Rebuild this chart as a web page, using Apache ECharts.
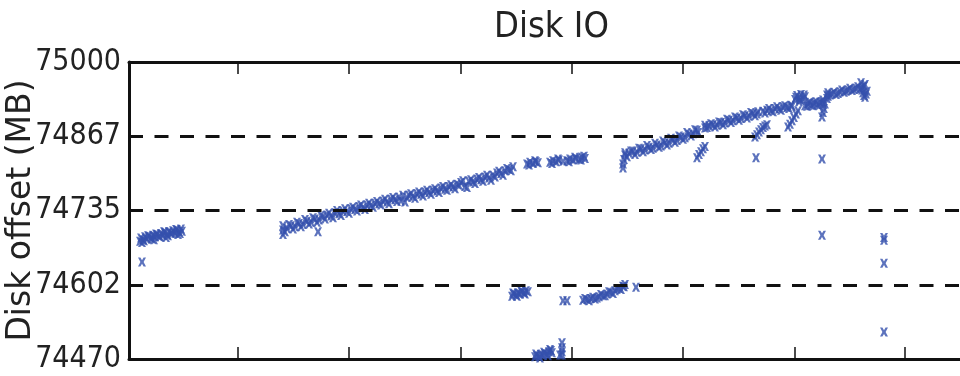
<!DOCTYPE html>
<html>
<head>
<meta charset="utf-8">
<script src="https://cdn.jsdelivr.net/npm/echarts@6/dist/echarts.min.js"></script>
<style>html,body{margin:0;padding:0;background:#fff}#c{width:960px;height:376px}</style>
</head>
<body>
<div id="c"></div>
<script>
// x: time position (arbitrary units), y: disk offset in MB
var segA = [[11,74680],[12,74686],[13,74678],[14,74683],[15,74681],[16,74688],[18,74684],[19,74690],[20,74689],[22,74686],[23,74684],[24,74691],[25,74683],[26,74688],[27,74693],[28,74692],[30,74689],[31,74688],[32,74694],[34,74691],[35,74697],[36,74696],[37,74687],[38,74692],[39,74690],[40,74697],[42,74694],[43,74695],[44,74699],[46,74695],[47,74701],[48,74700],[49,74692],[50,74697],[51,74694],[52,74702],[53,74698]];
var outA = [[13,74643]];
var segB = [[154,74692],[154,74700],[154,74708],[156,74697],[158,74703],[160,74710],[162,74708],[164,74702],[166,74706],[168,74714],[170,74712],[172,74706],[174,74710],[176,74719],[178,74716],[180,74711],[182,74714],[184,74722],[186,74720],[188,74714],[190,74718],[192,74726],[194,74724],[196,74720],[198,74727],[200,74730],[202,74725],[204,74722],[206,74731],[208,74735],[210,74729],[212,74726],[214,74734],[216,74738],[218,74733],[220,74730],[222,74738],[224,74741],[226,74737],[228,74734],[230,74742],[232,74745],[234,74740],[236,74737],[238,74745],[240,74748],[242,74744],[244,74741],[246,74748],[248,74751],[250,74747],[252,74745],[254,74752],[256,74755],[258,74750],[260,74747],[262,74755],[264,74758],[266,74754],[268,74751],[270,74759],[272,74752],[274,74762],[276,74750],[278,74758],[280,74762],[282,74765],[284,74760],[286,74757],[288,74765],[290,74768],[292,74764],[294,74761],[296,74768],[298,74771],[300,74767],[302,74764],[304,74771],[306,74774],[308,74770],[310,74767],[312,74775],[314,74778],[316,74773],[318,74771],[320,74778],[322,74781],[324,74777],[326,74774],[328,74782],[330,74780],[332,74785],[334,74788],[336,74778],[338,74776],[340,74787],[342,74790],[344,74786],[346,74783],[348,74791],[350,74794],[352,74790],[354,74787],[356,74795],[358,74798],[360,74793],[362,74789],[364,74798],[366,74795],[368,74802],[370,74805],[372,74801],[374,74798],[376,74806],[378,74810],[380,74808],[382,74806],[384,74813]];
var outB = [[189,74697]];
var segGaps = [[398,74818],[400,74816],[401,74821],[404,74819],[406,74824],[407,74822],[409,74820],[421,74821],[423,74819],[424,74824],[427,74822],[429,74827],[430,74825],[434,74823],[438,74824],[440,74822],[441,74827],[444,74825],[446,74830],[447,74828],[450,74826],[452,74825],[453,74830],[455,74832],[456,74828]];
var segC = [[494,74811],[494,74818],[495,74826],[496,74834],[496,74838],[498,74831],[500,74837],[502,74841],[504,74841],[506,74835],[508,74839],[510,74846],[512,74845],[514,74840],[516,74843],[518,74851],[520,74848],[522,74844],[524,74846],[526,74855],[528,74852],[530,74848],[532,74850],[534,74859],[536,74856],[538,74852],[540,74855],[542,74864],[544,74861],[546,74857],[548,74860],[550,74868],[552,74866],[554,74862],[556,74865],[558,74874],[560,74871],[562,74868],[564,74872],[566,74879],[568,74878],[569,74874]];
var segD = [[576,74882],[576,74887],[578,74883],[580,74886],[582,74890],[584,74888],[586,74884],[588,74887],[590,74893],[592,74892],[594,74888],[596,74891],[598,74898],[600,74896],[602,74892],[604,74895],[606,74902],[608,74900],[610,74896],[612,74899],[614,74906],[616,74904],[618,74900],[620,74903],[622,74910],[624,74908],[626,74904],[628,74907],[629,74911]];
var segE = [[634,74912],[636,74909],[638,74914],[640,74917],[642,74913],[644,74911],[646,74917],[648,74920],[650,74916],[652,74914],[654,74920],[656,74922],[658,74919],[660,74917],[662,74923],[663,74921]];
var segF = [[666,74933],[667,74937],[668,74940],[670,74936],[670,74929],[671,74932],[672,74942],[674,74934],[675,74941],[676,74938],[676,74922],[678,74921],[679,74926],[681,74928],[682,74923],[684,74922],[685,74927],[687,74929],[688,74924],[690,74923],[691,74928],[693,74929],[694,74925],[694,74932]];
var segG = [[699,74939],[699,74945],[701,74941],[703,74943],[705,74946],[707,74942],[709,74944],[711,74947],[713,74950],[715,74946],[717,74948],[719,74950],[721,74953],[723,74949],[725,74951],[727,74953],[729,74956],[731,74952],[733,74955],[735,74957],[736,74960],[732,74963],[733,74950],[734,74945],[735,74940],[736,74937],[737,74943],[738,74948]];
var branches = [[568,74829],[570,74835],[572,74840],[574,74845],[576,74849],[626,74866],[628,74870],[630,74875],[632,74879],[634,74883],[636,74886],[638,74888],[659,74884],[661,74889],[663,74895],[665,74901],[667,74907],[669,74913],[693,74902],[694,74910],[695,74917],[696,74925],[698,74935],[698,74941]];
var isolated = [[627,74829],[693,74827],[693,74691],[755,74682],[755,74687],[755,74641],[755,74518],[507,74598]];
var lowMid = [[383,74582],[384,74588],[385,74586],[387,74584],[388,74582],[389,74588],[391,74586],[392,74592],[393,74590],[395,74588],[396,74586],[397,74592],[399,74590],[434,74574],[438,74574],[454,74575],[456,74578],[458,74576],[460,74574],[462,74578],[464,74580],[466,74577],[468,74579],[470,74581],[472,74585],[474,74583],[476,74583],[478,74586],[480,74590],[482,74589],[484,74587],[486,74592],[488,74595],[490,74596],[492,74594],[494,74600],[495,74599],[496,74603]];
var lowBottom = [[406,74474],[407,74479],[408,74476],[410,74475],[411,74472],[412,74478],[414,74477],[415,74482],[416,74480],[418,74479],[419,74476],[420,74483],[421,74487],[422,74485],[423,74481],[433,74499],[433,74490],[433,74483],[433,74477],[431,74477]];

var yTicks = [74470, 74602.5, 74735, 74867.5, 75000];
var yDashed = [74602.5, 74735, 74867.5];
var xTicks = [109, 220, 332, 443, 554, 666, 776];

var allPoints = [].concat(segA, outA, segB, outB, segGaps, segC, segD, segE, segF, segG, branches, isolated, lowMid, lowBottom);

var chart = echarts.init(document.getElementById('c'), null, {renderer: 'canvas'});
var xMark = 'path://M0,0L3,0L5,3L7,0L10,0L7,5L10,10L7,10L5,7L3,10L0,10L3,5Z';
var axisBase = {
  type: 'value', min: 0, max: 888,
  axisLine: {show: true, onZero: false, lineStyle: {color: '#111', width: 3}},
  axisTick: {show: true, inside: true, length: 12, customValues: xTicks, lineStyle: {color: '#111', width: 1.5}},
  axisLabel: {show: false},
  splitLine: {show: false}
};
chart.setOption({
  animation: false,
  backgroundColor: '#fff',
  title: {
    text: 'Disk IO', left: 489, top: 5,
    textStyle: {fontFamily: 'DejaVu Sans Condensed', fontSize: 36, fontWeight: 'normal', color: '#222'}
  },
  grid: {left: 129, top: 62, width: 888, height: 297, show: false, outerBoundsMode: 'none', containLabel: false},
  xAxis: [
    Object.assign({}, axisBase, {position: 'bottom'}),
    Object.assign({}, axisBase, {position: 'top'})
  ],
  yAxis: {
    type: 'value', min: 74470, max: 75000,
    name: 'Disk offset (MB)', nameLocation: 'middle', nameGap: 91, nameMoveOverlap: false,
    nameTextStyle: {fontFamily: 'DejaVu Sans', fontSize: 33, color: '#222'},
    axisLine: {show: true, lineStyle: {color: '#111', width: 3}},
    axisTick: {show: false},
    axisLabel: {
      customValues: yTicks, margin: 8,
      fontFamily: 'DejaVu Sans Condensed', fontSize: 30, color: '#222',
      formatter: function (v) { return String(Math.floor(v)); }
    },
    splitLine: {show: false}
  },
  series: [{
    type: 'scatter',
    data: allPoints,
    symbol: xMark,
    symbolSize: [8, 9],
    itemStyle: {color: '#3550ad'},
    markLine: {
      silent: true, symbol: 'none', label: {show: false},
      lineStyle: {color: '#111', width: 3, type: [14, 11.5]},
      data: yDashed.map(function (v) { return {yAxis: v}; })
    }
  }]
});
</script>
</body>
</html>
